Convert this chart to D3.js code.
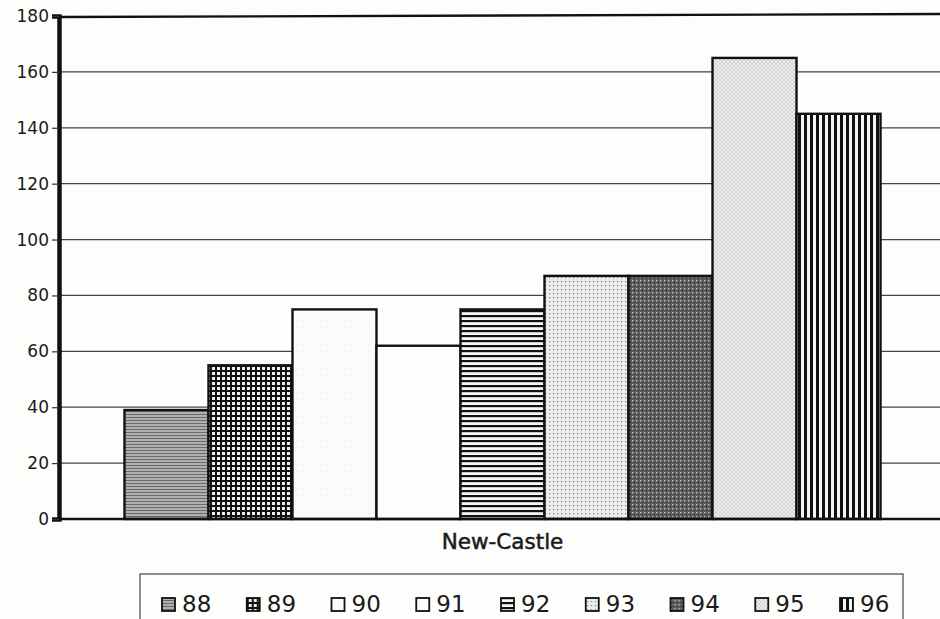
<!DOCTYPE html>
<html>
<head>
<meta charset="utf-8">
<script src="https://cdn.jsdelivr.net/npm/d3@7"></script>
<style>
  body { margin: 0; background: #fdfdfb; }
  svg { display: block; }
  text { font-family: "DejaVu Sans", sans-serif; fill: #1a1a1a; }
</style>
</head>
<body>
<div id="chart"></div>
<script>
// Chart data
const category = 'New-Castle';
const years = ['88', '89', '90', '91', '92', '93', '94', '95', '96'];
const values = [39, 55, 75, 62, 75, 87, 87, 165, 145];
const yTicks = [0, 20, 40, 60, 80, 100, 120, 140, 160, 180];

const width = 940;
const height = 619;
const margin = { top: 16, right: -6, bottom: 100, left: 59 };

const svg = d3.select('#chart')
  .append('svg')
  .attr('width', width)
  .attr('height', height);

const defs = svg.append('defs');

/**
 * Fill patterns, one per year, imitating the printed hatching
 */
function makePattern(id, size, bg, draw) {
  const p = defs.append('pattern')
    .attr('id', id)
    .attr('patternUnits', 'userSpaceOnUse')
    .attr('width', size)
    .attr('height', size);
  p.append('rect').attr('width', size).attr('height', size).attr('fill', bg);
  draw(p);
}

makePattern('p88', 3, '#b0b0ae', p => {
  p.append('rect').attr('y', 0).attr('width', 3).attr('height', 1).attr('fill', '#6a6a6a');
});
makePattern('p89', 5, '#f0f0f0', p => {
  p.append('rect').attr('width', 5).attr('height', 2).attr('fill', '#111');
  p.append('rect').attr('width', 2).attr('height', 5).attr('fill', '#111');
});
makePattern('p90', 6, '#fbfbf9', p => {
  p.append('circle').attr('cx', 3).attr('cy', 3).attr('r', 0.5).attr('fill', '#e2e2e2');
});
makePattern('p91', 6, '#fdfdfb', p => {});
makePattern('p92', 5, '#f6f6f6', p => {
  p.append('rect').attr('width', 5).attr('height', 2.2).attr('fill', '#111');
});
makePattern('p93', 4, '#ececea', p => {
  p.append('rect').attr('x', 1).attr('y', 1).attr('width', 1.2).attr('height', 1.2).attr('fill', '#7a7a7a');
});
makePattern('p94', 4, '#5a5a5a', p => {
  p.append('rect').attr('x', 0).attr('y', 0).attr('width', 1.3).attr('height', 1.3).attr('fill', '#c8c8c8');
  p.append('rect').attr('x', 2).attr('y', 2).attr('width', 1).attr('height', 1).attr('fill', '#2a2a2a');
});
makePattern('p95', 4, '#efefed', p => {
  p.append('path').attr('d', 'M0,4 L4,0 M0,0 L4,4').attr('stroke', '#c6c6c4').attr('stroke-width', 0.7);
});
makePattern('p96', 6, '#f4f4f4', p => {
  p.append('rect').attr('width', 3).attr('height', 6).attr('fill', '#111');
});

const x = d3.scaleBand()
  .domain([category])
  .range([margin.left, width - margin.right])
  .paddingInner(0)
  .paddingOuter(0.0866);

const xYear = d3.scaleBand()
  .domain(years)
  .range([x(category), x(category) + x.bandwidth()]);

const y = d3.scaleLinear()
  .domain([0, 180])
  .range([height - margin.bottom, margin.top]);

// Gridlines
svg.append('g')
  .selectAll('line')
  .data(yTicks.slice(1, -1))
  .join('line')
  .attr('x1', margin.left)
  .attr('x2', width)
  .attr('y1', d => y(d))
  .attr('y2', d => y(d))
  .attr('stroke', '#444')
  .attr('stroke-width', 1.2);

// Top border
svg.append('line')
  .attr('x1', margin.left).attr('x2', width)
  .attr('y1', y(180) + 1).attr('y2', y(180) - 2)
  .attr('stroke', '#111').attr('stroke-width', 2.4);

// Bars
svg.append('g')
  .selectAll('rect')
  .data(years)
  .join('rect')
  .attr('x', d => xYear(d))
  .attr('y', (d, i) => y(values[i]))
  .attr('width', xYear.bandwidth())
  .attr('height', (d, i) => y(0) - y(values[i]))
  .attr('fill', d => `url(#p${d})`)
  .attr('stroke', '#111')
  .attr('stroke-width', 2.4);

// Y axis
const yAxis = svg.append('g')
  .attr('transform', `translate(${margin.left},0)`)
  .call(d3.axisLeft(y).tickValues(yTicks).tickSize(7).tickPadding(3));
yAxis.select('.domain').attr('stroke', '#111').attr('stroke-width', 4.5);
yAxis.selectAll('.tick line').attr('stroke', '#333').attr('stroke-width', 1.2);
yAxis.selectAll('.tick text')
  .attr('font-size', 17)
  .attr('font-family', '"DejaVu Sans", sans-serif')
  .attr('fill', '#1a1a1a');

// Baseline
svg.append('line')
  .attr('x1', margin.left).attr('x2', width)
  .attr('y1', y(0)).attr('y2', y(0))
  .attr('stroke', '#111').attr('stroke-width', 2.4);

// Category label
svg.append('text')
  .attr('x', x(category) + x.bandwidth() / 2)
  .attr('y', 549)
  .attr('text-anchor', 'middle')
  .attr('font-size', 21.5)
  .attr('stroke', '#1a1a1a')
  .attr('stroke-width', 0.5)
  .text(category);

// Legend
const legend = svg.append('g');
legend.append('rect')
  .attr('x', 140).attr('y', 574)
  .attr('width', 763).attr('height', 60)
  .attr('fill', 'none')
  .attr('stroke', '#444')
  .attr('stroke-width', 1.2);

const legendX = d3.scalePoint()
  .domain(years)
  .range([162, 840]);

const items = legend.selectAll('g.item')
  .data(years)
  .join('g')
  .attr('class', 'item')
  .attr('transform', d => `translate(${legendX(d)},612)`);

items.append('rect')
  .attr('x', 0).attr('y', -14)
  .attr('width', 13).attr('height', 13)
  .attr('fill', d => `url(#p${d})`)
  .attr('stroke', '#111')
  .attr('stroke-width', 1.8);

items.append('text')
  .attr('x', 20)
  .attr('y', 0)
  .attr('font-size', 23)
  .text(d => d);
</script>
</body>
</html>
